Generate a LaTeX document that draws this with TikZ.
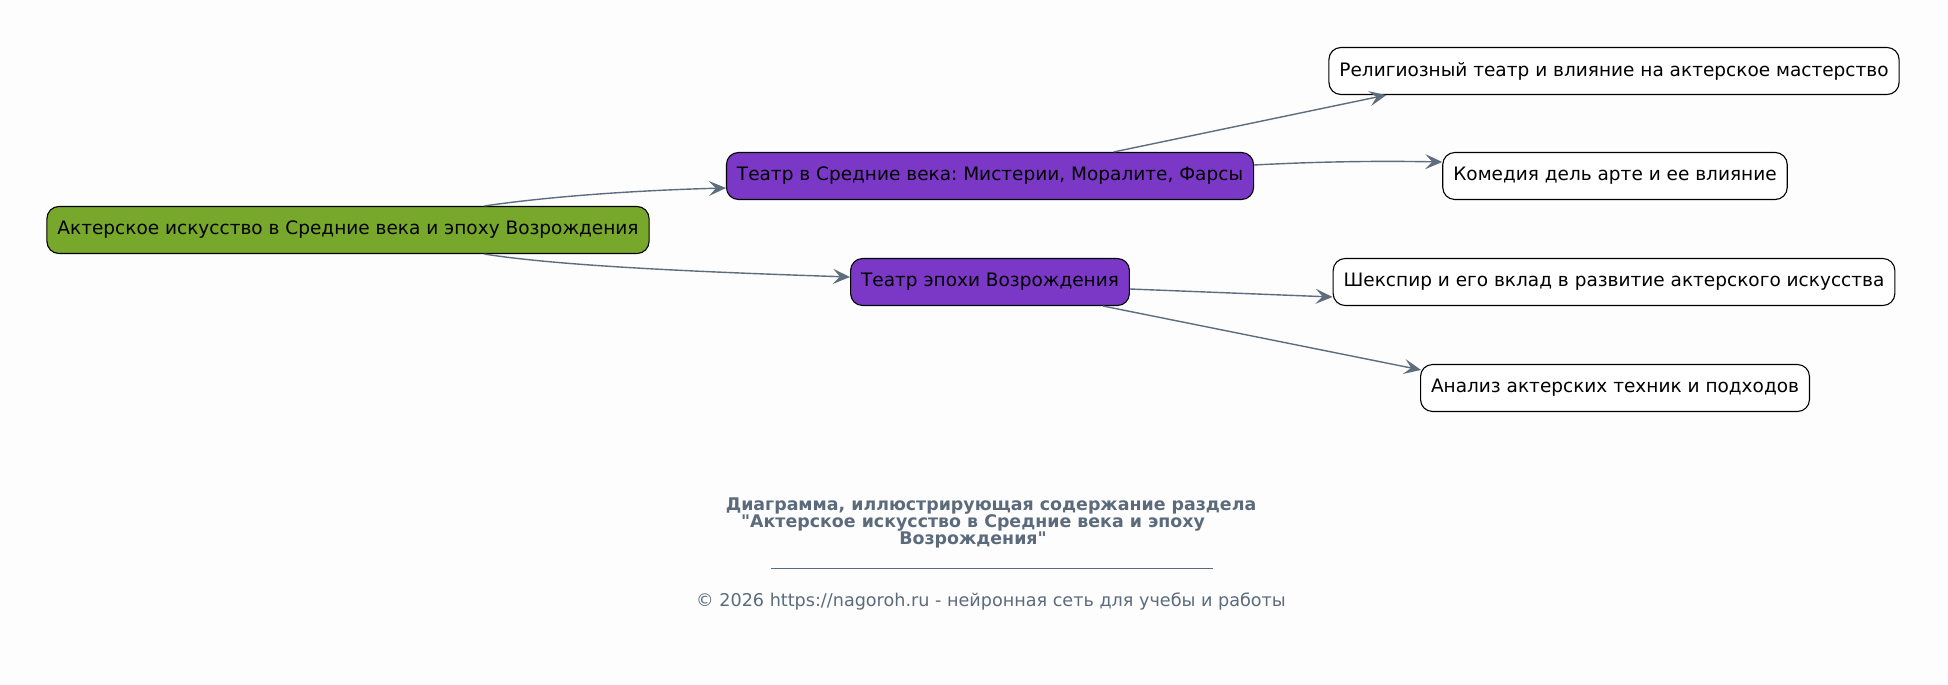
\documentclass[tikz,border=0pt]{standalone}
\usepackage{fontspec}
\setmainfont{DejaVu Sans}[Ligatures=TeXOff]
\usepackage{tikz}
\usetikzlibrary{arrows.meta, calc, positioning}
\frenchspacing

\definecolor{bgcol}{HTML}{FDFDFD}
\definecolor{rootcol}{HTML}{78A82B}
\definecolor{topiccol}{HTML}{7B38C6}
\definecolor{edgecol}{HTML}{5D6D7E}
\definecolor{capcol}{HTML}{5B6B7C}

\tikzset{
  box/.style={draw=black, line width=1.1pt, rounded corners=12pt,
    minimum height=47pt, inner xsep=10.5pt, font=\fontsize{18.5}{22}\selectfont},
  rootbox/.style={box, fill=rootcol},
  topicbox/.style={box, fill=topiccol},
  leafbox/.style={box, fill=white},
  edge/.style={draw=edgecol, line width=1.4pt,
    -{Stealth[length=17pt, width=15pt, inset=7pt]}},
  captext/.style={text=capcol, font=\bfseries\fontsize{17.4}{18}\selectfont, inner sep=0pt},
}

\begin{document}
\begin{tikzpicture}[x=1pt, y=-1pt]
\fill[bgcol] (0,0) rectangle (1948,685);
\useasboundingbox (0,0) rectangle (1948,685);

% nodes
\node[rootbox]  (root) at (348,230) {Актерское искусство в Средние века и эпоху Возрождения};
\node[topicbox] (med)  at (990,176) {Театр в Средние века: Мистерии, Моралите, Фарсы};
\node[topicbox] (ren)  at (990,282) {Театр эпохи Возрождения};
\node[leafbox]  (relig) at (1614,71)  {Религиозный театр и влияние на актерское мастерство};
\node[leafbox]  (comed) at (1615,176) {Комедия дель арте и ее влияние};
\node[leafbox]  (shake) at (1614,282) {Шекспир и его вклад в развитие актерского искусства};
\node[leafbox]  (anal)  at (1615,388) {Анализ актерских техник и подходов};

% edges
\draw[edge] (root.10) .. controls (560,195) and (650,190) .. ([yshift=-12pt]med.west);
\draw[edge] (root.-10) .. controls (560,266) and (700,272) .. ([yshift=5pt]ren.west);
\draw[edge] (med.11) -- ([xshift=58pt]relig.south west);
\draw[edge] ([yshift=11pt]med.east) .. controls (1330,161) and (1390,161) .. ([yshift=14pt]comed.west);
\draw[edge] ([yshift=-7pt]ren.east) -- ([yshift=-15pt]shake.west);
\draw[edge] (ren.-12) -- ([xshift=1pt,yshift=-6pt]anal.north west);

% caption
\node[captext] (cap1) at (991,506) {Диаграмма, иллюстрирующая содержание раздела};
\node[captext] (cap2) at (973,523) {"Актерское искусство в Средние века и эпоху};
\node[captext] (cap3) at (973,540) {Возрождения"};
\coordinate (ruleL) at (771,568);
\coordinate (ruleR) at (1213,568);
\draw[capcol, line width=0.8pt] (ruleL) -- (ruleR);
\node[text=capcol, font=\fontsize{17.6}{18}\selectfont, inner sep=0pt] (copy) at (991,601)
  {© 2026 https://nagoroh.ru - нейронная сеть для учебы и работы};
\end{tikzpicture}
\end{document}
